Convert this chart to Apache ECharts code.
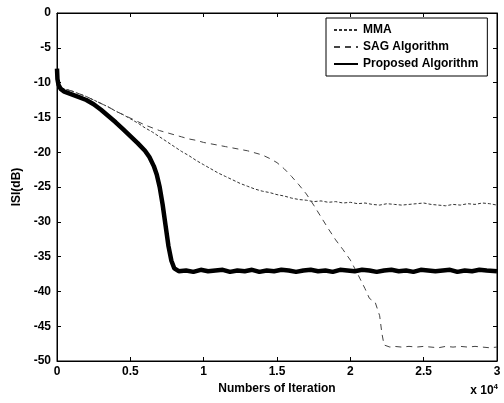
<!DOCTYPE html>
<html><head><meta charset="utf-8">
<script src="https://cdn.jsdelivr.net/npm/echarts@6/dist/echarts.min.js"></script>
<style>html,body{margin:0;padding:0;background:#fff}#c{width:504px;height:403px}</style>
</head><body><div id="c"></div>
<script>
var xTicks = ['0','0.5','1','1.5','2','2.5','3'];
var seriesNames = ['MMA','SAG Algorithm','Proposed Algorithm'];

var mmaX = [0,200,500,1000,1500,2000,2500,3000,3500,4000,4500,5000,5500,6000,6500,7000,7500,8000,8500,9000,9500,10000,10500,11000,11500,12000,12500,13000,13500,14000,14500,15000,15500,16000,16500,17000,17500,18000,18500,19000,19500,20000,20500,21000,21500,22000,22500,23000,23500,24000,24500,25000,25500,26000,26500,27000,27500,28000,28500,29000,29500,30000];
var mmaY = [-10.5,-10.7,-10.9,-11.2,-11.6,-12.0,-12.5,-13.0,-13.5,-14.1,-14.6,-15.2,-15.8,-16.5,-17.1,-17.8,-18.5,-19.2,-19.9,-20.5,-21.2,-21.8,-22.4,-23.0,-23.5,-24.0,-24.5,-24.9,-25.3,-25.6,-25.8,-26.1,-26.3,-26.6,-26.8,-26.9,-27.1,-27.0,-27.2,-27.1,-27.3,-27.2,-27.4,-27.3,-27.5,-27.6,-27.4,-27.5,-27.6,-27.5,-27.4,-27.3,-27.5,-27.6,-27.7,-27.5,-27.6,-27.4,-27.5,-27.3,-27.4,-27.6];

var sagX = [0,200,500,1000,1500,2000,2500,3000,3500,4000,4500,5000,5500,6000,6500,7000,7500,8000,8500,9000,9500,10000,10500,11000,11500,12000,12500,13000,13500,14000,14500,15000,15500,16000,16500,17000,17500,18000,18500,19000,19500,20000,20500,21000,21300,21700,22000,22150,22300,22700,23000,23500,24000,24500,25000,25500,26000,26500,27000,27500,28000,28500,29000,29500,30000];
var sagY = [-10.5,-10.7,-10.9,-11.2,-11.6,-12.0,-12.5,-13.0,-13.5,-14.1,-14.6,-15.1,-15.6,-16.1,-16.5,-16.9,-17.2,-17.5,-17.8,-18.1,-18.3,-18.6,-18.8,-19.0,-19.2,-19.4,-19.6,-19.8,-20.1,-20.4,-20.9,-21.5,-22.4,-23.5,-24.7,-26.0,-27.6,-29.3,-31.0,-32.6,-34.0,-35.5,-37.5,-39.6,-41.0,-41.6,-43.5,-46.0,-47.7,-48.0,-47.9,-48.0,-47.9,-48.0,-47.9,-48.0,-48.1,-47.9,-48.0,-47.9,-48.0,-47.9,-48.0,-48.1,-48.0];

var propX = [0,30,100,250,500,1000,1500,2000,2500,3000,3500,4000,4500,5000,5500,6000,6300,6600,6800,7000,7200,7400,7600,7800,8000,8300,8800,9300,9800,10300,10800,11300,11800,12300,12800,13300,13800,14300,14800,15300,15800,16300,16800,17300,17800,18300,18800,19300,19800,20300,20800,21300,21800,22300,22800,23300,23800,24300,24800,25300,25800,26300,26800,27300,27800,28300,28800,29300,30000];
var propY = [-8.0,-9.5,-10.3,-10.9,-11.3,-11.7,-12.1,-12.5,-13.1,-13.9,-14.8,-15.7,-16.7,-17.7,-18.7,-19.8,-20.7,-22.0,-23.2,-25.0,-27.5,-30.5,-33.5,-35.6,-36.7,-37.1,-37.0,-37.2,-36.9,-37.1,-37.0,-36.9,-37.2,-37.0,-37.1,-36.9,-37.2,-37.0,-37.1,-36.9,-37.0,-37.2,-37.0,-36.9,-37.1,-37.0,-37.2,-36.9,-37.0,-37.1,-36.9,-37.0,-37.2,-37.0,-36.9,-37.1,-37.0,-37.2,-36.9,-37.0,-37.1,-37.0,-36.9,-37.2,-37.0,-37.1,-36.9,-37.0,-37.1];

function zip(a,b){var r=[];for(var i=0;i<a.length;i++)r.push([a[i],b[i]]);return r;}

var FONT = 'Liberation Sans';
var chart = echarts.init(document.getElementById('c'), null, {renderer:'canvas'});
var axisCommon = {
  type:'value', axisLine:{show:true, onZero:false, lineStyle:{color:'#000',width:1}},
  axisTick:{show:true, inside:true, length:4, lineStyle:{color:'#000'}},
  splitLine:{show:false}
};
chart.setOption({
  animation:false,
  backgroundColor:'#fff',
  grid:{left:57, right:7, top:13, bottom:42, show:true, borderColor:'#000', borderWidth:1},
  legend:{
    orient:'vertical', left:326, top:18, padding:[6,9,6,7], itemGap:5,
    itemWidth:24, itemHeight:14, backgroundColor:'#fff', borderColor:'#000', borderWidth:1,
    itemStyle:{opacity:0},
    textStyle:{fontFamily:FONT, fontSize:12, fontWeight:'bold', color:'#000'},
    data:seriesNames
  },
  xAxis:[
    Object.assign({}, axisCommon, {min:0, max:30000, interval:5000, position:'bottom',
      name:'Numbers of Iteration', nameLocation:'middle', nameGap:11,
      nameTextStyle:{fontFamily:FONT, fontSize:12, fontWeight:'bold', color:'#000'},
      axisLabel:{margin:5, fontFamily:FONT, fontSize:12, fontWeight:'bold', color:'#000',
        formatter:function(v){return xTicks[Math.round(v/5000)];}}}),
    Object.assign({}, axisCommon, {min:0, max:30000, interval:5000, position:'top', axisLabel:{show:false}})
  ],
  yAxis:[
    Object.assign({}, axisCommon, {min:-50, max:0, interval:5, position:'left',
      name:'ISI(dB)', nameLocation:'middle', nameGap:31, nameRotate:90,
      nameTextStyle:{fontFamily:FONT, fontSize:12, fontWeight:'bold', color:'#000'},
      axisLabel:{margin:6, fontFamily:FONT, fontSize:12, fontWeight:'bold', color:'#000'}}),
    Object.assign({}, axisCommon, {min:-50, max:0, interval:5, position:'right', axisLabel:{show:false}})
  ],
  graphic:[{type:'text', right:6, top:383, style:{
    text:'{a|x 10}{b|4}', fill:'#000',
    rich:{a:{fontFamily:FONT, fontSize:12, fontWeight:'bold'}, b:{fontFamily:FONT, fontSize:8, fontWeight:'bold', verticalAlign:'top', padding:[0,0,8,0]}}
  }}],
  series:[
    {name:seriesNames[0], type:'line', symbol:'none', data:zip(mmaX,mmaY),
      lineStyle:{color:'#333', width:1, type:[3,2]}, itemStyle:{color:'#333'}},
    {name:seriesNames[1], type:'line', symbol:'none', data:zip(sagX,sagY),
      lineStyle:{color:'#444', width:1, type:[6,5]}, itemStyle:{color:'#444'}},
    {name:seriesNames[2], type:'line', symbol:'none', data:zip(propX,propY),
      lineStyle:{color:'#000', width:4.5}, itemStyle:{color:'#000'}}
  ]
});
</script></body></html>
